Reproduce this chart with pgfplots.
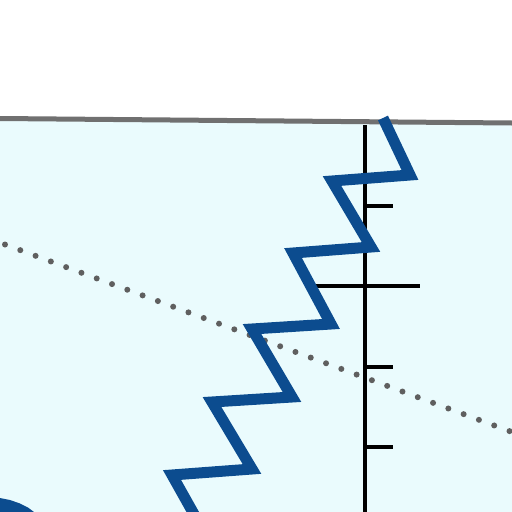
\documentclass[border=0pt]{standalone}
\usepackage{pgfplots}
\pgfplotsset{compat=1.18}
\definecolor{bgcyan}{RGB}{234,251,253}
\definecolor{zigblue}{RGB}{12,76,143}
\definecolor{dotgray}{RGB}{95,95,95}
\definecolor{topgray}{RGB}{112,112,112}
\begin{document}
\begin{tikzpicture}
\begin{axis}[
    width=512pt, height=512pt, scale only axis,
    xmin=0, xmax=512, ymin=0, ymax=512,
    y dir=reverse,
    axis lines=none, ticks=none,
]
% white page area (keeps the full frame)
\addplot[fill=white, draw=none] coordinates {(0,0) (512,0) (512,512) (0,512)};
% light background below the top rule
\addplot[fill=bgcyan, draw=none] coordinates {(0,118) (512,123) (512,512) (0,512)};
% top rule
\addplot[topgray, line width=5pt] coordinates {(0,118.5) (512,123)};
% dotted trend line
\addplot[dotgray, line width=6pt, line cap=round, dash pattern=on 0pt off 16.3pt]
    coordinates {(5,244.5) (520,435)};
% vertical axis with ticks
\addplot[black, line width=3.8pt] coordinates {(365,125) (365,512)};
\addplot[black, line width=3.8pt] coordinates {(310,286) (420,286)};
\addplot[black, line width=3.8pt] coordinates {(365,206) (393,206)};
\addplot[black, line width=3.8pt] coordinates {(365,367) (393,367)};
\addplot[black, line width=3.8pt] coordinates {(365,447) (393,447)};
% zigzag series
\addplot[zigblue, line width=11pt, line join=miter] coordinates {
    (383,118) (410,175) (332,181) (371,247) (293,253) (331,324)
    (252,329) (292,397) (212,402) (252,469) (172,475) (195,516)
};
% edge of the shape in the lower left corner
\addplot[fill=zigblue, draw=none] coordinates {
    (0,498) (10,500) (20,503.5) (28,507.5) (34,512) (0,512)
};
\end{axis}
\end{tikzpicture}
\end{document}
